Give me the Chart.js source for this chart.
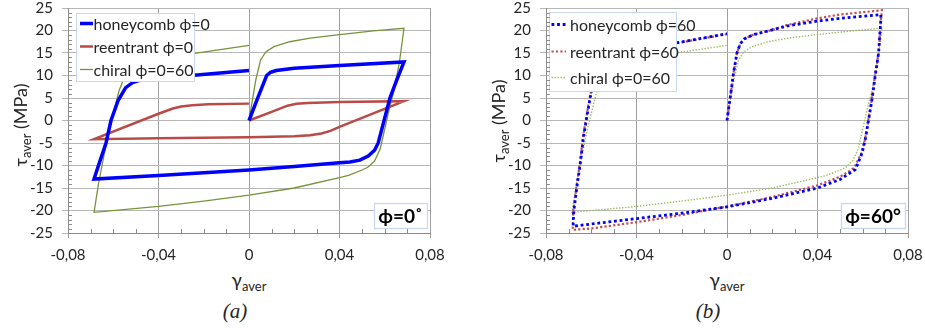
<!DOCTYPE html>
<html>
<head>
<meta charset="utf-8">
<script src="https://cdn.jsdelivr.net/npm/chart.js@4.4.0/dist/chart.umd.min.js"></script>
<style>
  body { margin: 0; background: #fff; }
  #wrap { position: relative; width: 925px; height: 328px; overflow: hidden; font-family: Lato, 'Open Sans', sans-serif; color: #262626; }
  canvas { position: absolute; top: 0; }
  .ytitle { position: absolute; width: 140px; height: 22px; line-height: 22px; text-align: center; font-size: 18px; white-space: nowrap; transform: rotate(-90deg); }
  .xtitle { position: absolute; width: 60px; height: 24px; line-height: 24px; text-align: center; font-size: 19px; }
  .cap { position: absolute; width: 60px; text-align: center; font-family: 'Liberation Serif', serif; font-style: italic; font-size: 21px; line-height: 24px; }
  sub { font-size: 13px; vertical-align: -4px; line-height: 0; }
</style>
</head>
<body>
<div id="wrap">
  <canvas id="chartA" width="460" height="268" style="left:0"></canvas>
  <canvas id="chartB" width="465" height="268" style="left:460px"></canvas>
  <div class="ytitle" style="left:-50px; top:114px">τ<sub>aver</sub> (MPa)</div>
  <div class="ytitle" style="left:428px; top:110px">τ<sub>aver</sub> (MPa)</div>
  <div class="xtitle" style="left:219px; top:268px">γ<sub>aver</sub></div>
  <div class="xtitle" style="left:697px; top:268px">γ<sub>aver</sub></div>
  <div class="cap" style="left:205px; top:299px">(a)</div>
  <div class="cap" style="left:678px; top:299px">(b)</div>
</div>
<script>
// strain / stress values
const honeycomb0X = [0, 0.004, 0.0078, 0.0095, 0.012, 0.02, 0.04, 0.0685, 0.0653, 0.0623, 0.0597, 0.0571, 0.0555, 0.0527, 0.049, 0.0446, 0.04, 0.02, 0, -0.02, -0.04, -0.0685, -0.0664, -0.0632, -0.061, -0.0578, -0.0545, -0.0515, -0.048, -0.04, -0.023, 0];
const honeycomb0Y = [0, 5.2, 10.0, 10.7, 11.1, 11.6, 12.2, 13.0, 9.0, 5.0, 0, -5.0, -6.6, -7.9, -8.8, -9.2, -9.4, -10.2, -11.0, -11.6, -12.2, -13.0, -9.8, -5.0, 0, 4.5, 7.3, 8.4, 9.0, 9.5, 10.1, 11.1];

const reentrant0X = [0, 0.01, 0.017, 0.021, 0.026, 0.04, 0.0685, 0.04, 0.036, 0.032, 0.027, 0.02, 0, -0.04, -0.0685, -0.04, -0.034, -0.03, -0.025, -0.018, 0];
const reentrant0Y = [0, 1.9, 3.3, 3.7, 3.9, 4.1, 4.3, -1.4, -2.3, -2.9, -3.3, -3.5, -3.7, -3.95, -4.15, 1.5, 2.6, 3.1, 3.4, 3.6, 3.75];

const chiralX = [0, 0.003, 0.0051, 0.0073, 0.011, 0.018, 0.027, 0.04, 0.055, 0.0685, 0.0665, 0.064, 0.0615, 0.0595, 0.058, 0.0555, 0.0525, 0.05, 0.044, 0.04, 0.02, 0, -0.02, -0.04, -0.0685, -0.0665, -0.064, -0.0617, -0.0595, -0.0575, -0.0553, -0.052, -0.046, -0.035, -0.024, 0];
const chiralY = [0, 9.0, 13.4, 15.2, 16.4, 17.5, 18.3, 19.1, 19.9, 20.5, 13.0, 6.5, 1.5, -3.0, -6.3, -9.0, -10.4, -11.0, -12.2, -12.7, -15.0, -16.6, -17.9, -19.1, -20.4, -14.0, -7.5, -2.0, 2.6, 6.5, 9.4, 11.8, 13.3, 14.2, 14.9, 16.7];

const honeycomb60X = [0, 0.0015, 0.0029, 0.0044, 0.0058, 0.0075, 0.0118, 0.019, 0.0265, 0.04, 0.05, 0.068, 0.068, 0.067, 0.0655, 0.0641, 0.0626, 0.0611, 0.0597, 0.058, 0.0567, 0.053, 0.05, 0.04, 0.02, 0, -0.02, -0.04, -0.06, -0.068, -0.0678, -0.0663, -0.0648, -0.0634, -0.0619, -0.0605, -0.059, -0.0575, -0.0555, -0.052, -0.046, -0.04, -0.022, 0];
const honeycomb60Y = [0, 5.4, 10.6, 15.0, 17.0, 18.1, 19.1, 20.0, 21.0, 22.1, 22.7, 23.5, 22.4, 15.0, 9.9, 4.7, 0.2, -4.2, -7.2, -9.4, -10.9, -12.1, -13.1, -15.0, -17.3, -19.2, -20.6, -21.8, -23.0, -23.5, -20.5, -14.6, -9.4, -3.5, 1.0, 5.0, 8.5, 11.5, 13.5, 14.7, 15.4, 15.9, 17.3, 19.3];

const reentrant60X = [0, 0.0015, 0.0029, 0.0044, 0.0058, 0.0075, 0.0118, 0.019, 0.0265, 0.04, 0.05, 0.0685, 0.068, 0.067, 0.0654, 0.064, 0.0625, 0.061, 0.0595, 0.0577, 0.0562, 0.053, 0.05, 0.04, 0.02, 0, -0.02, -0.04, -0.06, -0.0682, -0.068, -0.0665, -0.065, -0.0636, -0.0621, -0.0607, -0.0592, -0.0577, -0.0557, -0.052, -0.046, -0.04, -0.022, 0];
const reentrant60Y = [0, 5.4, 10.6, 15.0, 17.0, 18.1, 19.1, 20.0, 21.2, 22.7, 23.55, 24.5, 22.4, 15.0, 9.9, 4.7, 0.2, -4.2, -7.2, -9.0, -10.5, -11.6, -12.5, -14.4, -17.0, -19.1, -21.0, -22.6, -24.0, -24.3, -20.5, -14.6, -9.4, -3.5, 1.0, 5.0, 8.5, 11.5, 13.5, 14.7, 15.4, 15.9, 17.2, 19.2];

const xTicks = { min: -0.08, max: 0.08, step: 0.04 };
const yTicks = { min: -25, max: 25, step: 5 };

const pts = (xs, ys) => xs.map((x, i) => ({ x: x, y: ys[i] }));
const fmtX = v => Math.abs(v) < 1e-9 ? '0' : v.toFixed(2).replace('.', ',');

Chart.defaults.font.family = 'Lato';
Chart.defaults.color = '#262626';

// minor tick marks inside the plot, like the spreadsheet original
const minorTicks = {
  id: 'minorTicks',
  afterDraw(chart) {
    const { ctx, chartArea: a, scales: { x, y } } = chart;
    ctx.save();
    ctx.strokeStyle = '#8c8c8c';
    ctx.lineWidth = 1;
    ctx.beginPath();
    for (let v = yTicks.min; v <= yTicks.max; v++) {
      if (v % yTicks.step === 0) continue;
      const py = Math.round(y.getPixelForValue(v)) + 0.5;
      ctx.moveTo(a.left, py); ctx.lineTo(a.left + 4, py);
    }
    for (let i = -8; i <= 8; i++) {
      if (i % 4 === 0) continue;
      const px = Math.round(x.getPixelForValue(i / 100)) + 0.5;
      ctx.moveTo(px, a.bottom); ctx.lineTo(px, a.bottom - 4);
    }
    ctx.stroke();
    ctx.restore();
  }
};

// boxed legend + phi label drawn over the lines
const boxLegend = {
  id: 'boxLegend',
  afterDatasetsDraw(chart, args, o) {
    const ctx = chart.ctx;
    ctx.save();
    ctx.fillStyle = '#fff';
    ctx.strokeStyle = '#c9d8ee';
    ctx.lineWidth = 1;
    ctx.fillRect(o.x, o.y, o.w, o.h);
    ctx.strokeRect(o.x + 0.5, o.y + 0.5, o.w, o.h);
    ctx.font = o.font;
    ctx.textBaseline = 'middle';
    chart.data.datasets.forEach((ds, i) => {
      const yy = o.rows[i];
      ctx.beginPath();
      ctx.strokeStyle = ds.borderColor;
      ctx.lineWidth = ds.borderWidth;
      ctx.setLineDash(ds.borderDash || []);
      ctx.moveTo(o.s0, yy); ctx.lineTo(o.s1, yy);
      ctx.stroke();
      ctx.setLineDash([]);
      ctx.fillStyle = '#262626';
      ctx.fillText(ds.label, o.tx, yy + 1);
    });
    const b = o.tag;
    ctx.fillStyle = '#fff';
    ctx.fillRect(b.x, b.y, b.w, b.h);
    ctx.strokeStyle = '#c9d8ee';
    ctx.strokeRect(b.x + 0.5, b.y + 0.5, b.w, b.h);
    ctx.fillStyle = '#000';
    ctx.font = 'bold 19px Lato';
    ctx.textAlign = 'center';
    ctx.fillText(b.text, b.x + b.w / 2, b.y + b.h / 2 + 1);
    ctx.restore();
  }
};

function makeChart(id, datasets, yWidth, padRight, legendOpts) {
  return new Chart(document.getElementById(id), {
    type: 'scatter',
    data: { datasets: datasets },
    options: {
      responsive: false,
      animation: false,
      devicePixelRatio: 1,
      layout: { padding: { left: 0, right: padRight, top: 8, bottom: 0 } },
      elements: { point: { radius: 0 }, line: { tension: 0 } },
      plugins: {
        legend: { display: false },
        tooltip: { enabled: false },
        boxLegend: legendOpts
      },
      scales: {
        x: {
          type: 'linear',
          min: xTicks.min, max: xTicks.max,
          ticks: { stepSize: xTicks.step, callback: fmtX, font: { size: 15 }, padding: 8, maxRotation: 0, autoSkip: false },
          grid: { color: '#a0a0a0', lineWidth: 1, tickLength: 5 },
          border: { color: '#8c8c8c' },
          afterFit(s) { s.height = 35; s.paddingLeft = 0; s.paddingRight = 0; }
        },
        y: {
          type: 'linear',
          min: yTicks.min, max: yTicks.max,
          ticks: { stepSize: yTicks.step, font: { size: 15 }, padding: 9 },
          grid: { color: '#b8b8b8', lineWidth: 1, tickLength: 6 },
          border: { color: '#8c8c8c' },
          afterFit(s) { s.width = yWidth; s.paddingTop = 0; s.paddingBottom = 0; }
        }
      }
    },
    plugins: [minorTicks, boxLegend]
  });
}

makeChart('chartA', [
  { label: 'honeycomb ϕ=0', data: pts(honeycomb0X, honeycomb0Y), showLine: true, borderColor: '#0000ff', borderWidth: 3.5 },
  { label: 'reentrant ϕ=0', data: pts(reentrant0X, reentrant0Y), showLine: true, borderColor: '#b94a47', borderWidth: 2.5 },
  { label: 'chiral ϕ=0=60', data: pts(chiralX, chiralY), showLine: true, borderColor: '#77933c', borderWidth: 1.3 }
], 68, 30, {
  x: 76, y: 13, w: 118, h: 68, rows: [23.5, 46.5, 69.5], s0: 80, s1: 93, tx: 93.5, font: '16px Lato',
  tag: { x: 374, y: 203, w: 53, h: 25, text: 'ϕ=0˚' }
});

makeChart('chartB', [
  { label: 'honeycomb ϕ=60', data: pts(honeycomb60X, honeycomb60Y), showLine: true, borderColor: '#0000ff', borderWidth: 2.8, borderDash: [2.8, 2.8] },
  { label: 'reentrant ϕ=60', data: pts(reentrant60X, reentrant60Y), showLine: true, borderColor: '#c0504d', borderWidth: 2.2, borderDash: [2.2, 2.2] },
  { label: 'chiral ϕ=0=60', data: pts(chiralX, chiralY), showLine: true, borderColor: '#9bbb59', borderWidth: 1.4, borderDash: [1.4, 1.6] }
], 86, 17, {
  x: 89, y: 12, w: 127, h: 79, rows: [24.5, 51.5, 77.5], s0: 91.5, s1: 106, tx: 110, font: '16px Lato',
  tag: { x: 381, y: 203, w: 64, h: 25, text: 'ϕ=60°' }
});
</script>
</body>
</html>
